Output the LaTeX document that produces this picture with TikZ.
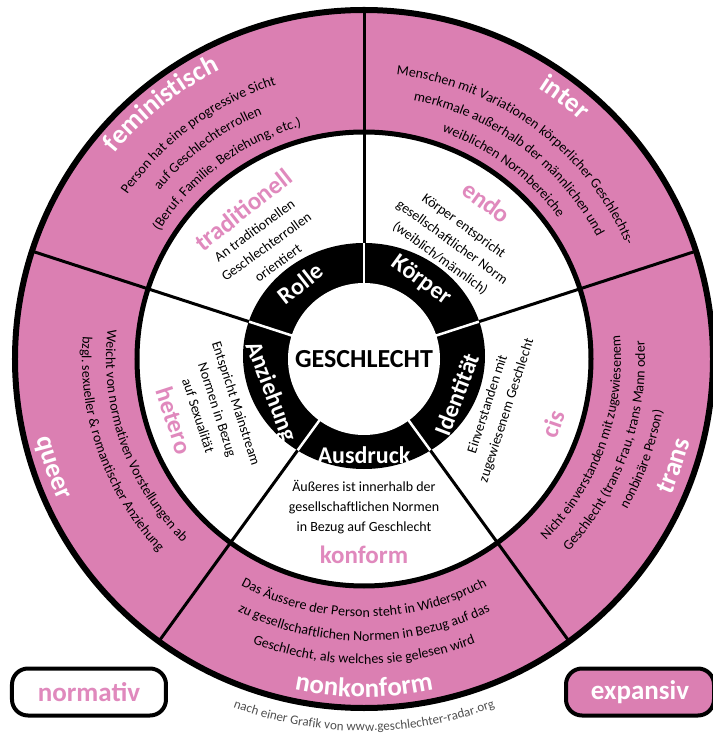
\documentclass[tikz,border=0pt]{standalone}
\usepackage{fontspec}
\setmainfont{Carlito}
\usetikzlibrary{decorations.text}
\definecolor{radarpink}{RGB}{219,127,178}
\definecolor{labelpink}{RGB}{224,137,189}
\definecolor{footgray}{RGB}{80,80,80}

\begin{document}
\begin{tikzpicture}[x=1pt, y=1pt,
	midlabel/.style={text=labelpink, font=\fontsize{25}{25}\selectfont\bfseries},
	midtext/.style={align=center, font=\fontsize{14}{20}\selectfont},
	ringlabel/.style={text=white, font=\fontsize{24}{24}\selectfont\bfseries},
	arcline/.style={decorate, decoration={text along path, text align=center,
		text={|\fontsize{14}{14}\selectfont|#1}}},
	arclabel/.style={decorate, decoration={text along path, text align=center, text color=white,
		text={|\fontsize{27}{27}\selectfont\bfseries|#1}}},
	tagbox/.style={draw=black, line width=4pt, rounded corners=16pt, minimum width=154pt, minimum height=47pt, font=\fontsize{27}{27}\selectfont\bfseries}]
	\useasboundingbox (-364,-376) rectangle (348,359);

	% rings
	\fill[radarpink] (0,0) circle[radius=349];
	\fill[white] (0,0) circle[radius=227];
	\fill[black] (0,3) ellipse[x radius=121, y radius=113];
	\fill[white] (0,0) circle[radius=76];

	% sector borders, gaps in the black ring first
	\foreach \a/\r in {18/121, 90/116, 162/121, 234/113, 306/113} {
		\draw[white, line width=2.5pt] (\a:74) -- (\a:\r);
		\draw[line width=3pt] (\a:\r) -- (\a:349);
	}
	\draw[line width=5pt] (0,0) circle[radius=227];
	\draw[line width=6pt] (0,0) circle[radius=349];

	% centre and dimensions
	\node[font=\fontsize{26}{26}\selectfont\bfseries] (geschlecht) at (0,0) {GESCHLECHT};
	\node[ringlabel, rotate=38] (rolle) at (130:99) {Rolle};
	\node[ringlabel, rotate=-36] (koerper) at (54:97) {Körper};
	\node[ringlabel, rotate=69] (identitaet) at (-21:99) {Identität};
	\node[ringlabel] (ausdruck) at (270:96) {Ausdruck};
	\node[ringlabel, rotate=-69] (anziehung) at (199.5:99) {Anziehung};

	% normative ring
	\node[midlabel, rotate=38] (traditionell) at (129:192) {traditionell};
	\node[midtext, rotate=36] (traditext) at (131:149) {An traditionellen\\Geschlechterrollen\\orientiert};
	\node[midlabel, rotate=-36] (endo) at (52:199) {endo};
	\node[midtext, rotate=-36] (endotext) at (53:146) {Körper entspricht\\gesellschaftlicher Norm\\(weiblich/männlich)};
	\node[midlabel, rotate=-72] (hetero) at (198:199) {hetero};
	\node[midtext, rotate=-72] (heterotext) at (199:155) {Entspricht Mainstream\\Normen in Bezug\\auf Sexualität};
	\node[midlabel, rotate=71] (cis) at (-19:200) {cis};
	\node[midtext, rotate=72] (cistext) at (-20:142) {Einverstanden mit\\zugewiesenem Geschlecht};
	\node[midlabel] (konform) at (270:196) {konform};
	\node[midtext] (konformtext) at (270:148) {Äußeres ist innerhalb der\\gesellschaftlichen Normen\\in Bezug auf Geschlecht};

	% expansive ring, upper sectors run clockwise
	\path[arclabel={feministisch}] (168.5:323) arc[start angle=168.5, end angle=88.5, radius=323];
	\path[arcline={Person hat eine progressive Sicht}] (166.5:288) arc[start angle=166.5, end angle=86.5, radius=288];
	\path[arcline={auf Geschlechterrollen}] (166.5:265) arc[start angle=166.5, end angle=86.5, radius=265];
	\path[arcline={(Beruf, Familie, Beziehung, etc.)}] (166.5:241) arc[start angle=166.5, end angle=86.5, radius=241];

	\path[arclabel={inter}] (92.5:322) arc[start angle=92.5, end angle=12.5, radius=322];
	\path[arcline={Menschen mit Variationen körperlicher Geschlechts-}] (98.5:286) arc[start angle=98.5, end angle=8.5, radius=286];
	\path[arcline={merkmale außerhalb der männlichen und}] (93.5:263) arc[start angle=93.5, end angle=13.5, radius=263];
	\path[arcline={weiblichen Normbereiche}] (93.5:240) arc[start angle=93.5, end angle=13.5, radius=240];

	% lower sectors run counterclockwise
	\path[arclabel={queer}] (159.3:337) arc[start angle=159.3, end angle=239.3, radius=337];
	\path[arcline={Weicht von normativen Vorstellungen ab}] (159.3:258) arc[start angle=159.3, end angle=239.3, radius=258];
	\path[arcline={bzgl. sexueller {\&} romantischer Anziehung}] (159.3:282) arc[start angle=159.3, end angle=239.3, radius=282];

	\path[arclabel={trans}] (-59:336) arc[start angle=-59, end angle=21, radius=336];
	\path[arcline={Nicht einverstanden mit zugewiesenem}] (-59.8:257) arc[start angle=-59.8, end angle=20.2, radius=257];
	\path[arcline={Geschlecht (trans Frau, trans Mann oder}] (-59.8:281) arc[start angle=-59.8, end angle=20.2, radius=281];
	\path[arcline={nonbinäre Person)}] (-59.8:303) arc[start angle=-59.8, end angle=20.2, radius=303];

	\path[arclabel={nonkonform}] (230:338) arc[start angle=230, end angle=310, radius=338];
	\path[arcline={Das Äussere der Person steht in Widerspruch}] (230:258) arc[start angle=230, end angle=310, radius=258];
	\path[arcline={zu gesellschaftlichen Normen in Bezug auf das}] (230:282) arc[start angle=230, end angle=310, radius=282];
	\path[arcline={Geschlecht, als welches sie gelesen wird}] (230:305) arc[start angle=230, end angle=310, radius=305];

	% legend and source
	\node[tagbox, fill=white, text=labelpink] (normativ) at (-275,-333) {normativ};
	\node[tagbox, fill=radarpink, text=white, minimum width=148pt] (expansiv) at (276,-333) {expansiv};
	\path[decorate, decoration={text along path, text align=center,
		text={|\fontsize{13}{13}\selectfont\color{footgray}|nach einer Grafik von www.geschlechter-radar.org}}]
		(225:372) arc[start angle=225, end angle=315, radius=372];
\end{tikzpicture}
\end{document}
